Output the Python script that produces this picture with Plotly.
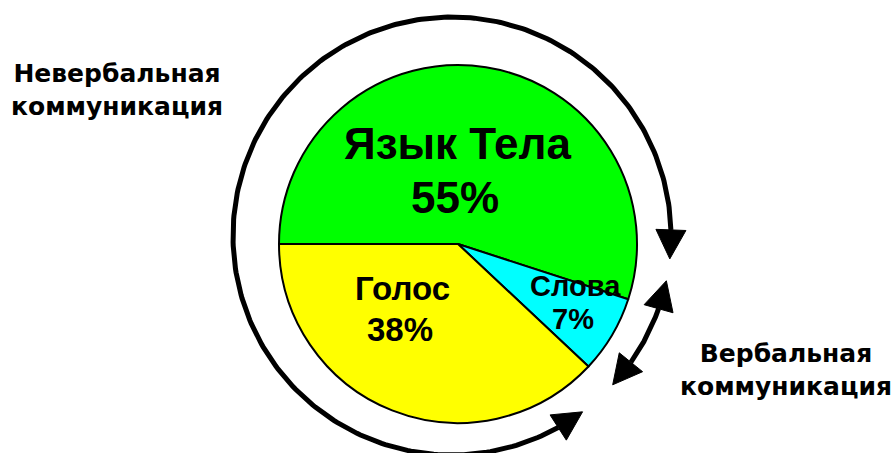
import numpy as np
import plotly.graph_objects as go

# ---- data ----
labels = ["Язык Тела", "Слова", "Голос"]
values = [55, 7, 38]
outer_labels = ["Невербальная<br>коммуникация", "Вербальная<br>коммуникация"]

# ---- styles / geometry (pixels) ----
W, H = 895, 453
colors = ["#00FF00", "#00FFFF", "#FFFF00"]
pie_cx, pie_cy, pie_r = 458, 244, 179
arc_cx, arc_cy, arc_r = 452, 236, 219
FONT_IN = "Liberation Sans"
FONT_OUT = "DejaVu Sans"

fig = go.Figure()
fig.add_trace(go.Pie(
    labels=labels, values=values, sort=False, direction="clockwise", rotation=270,
    marker=dict(colors=colors, line=dict(color="black", width=2)),
    textinfo="none", hoverinfo="label+percent", showlegend=False,
    domain=dict(x=[(pie_cx - pie_r) / W, (pie_cx + pie_r) / W],
                y=[(H - pie_cy - pie_r) / H, (H - pie_cy + pie_r) / H]),
))


def pt(theta_deg):
    t = np.radians(theta_deg)
    return arc_cx + arc_r * np.cos(t), arc_cy - arc_r * np.sin(t)


L, HW = 29, 15
dL = np.degrees(L / arc_r)


def arrow_head(tip_deg, back_deg):
    tx, ty = pt(tip_deg)
    bx, by = pt(back_deg)
    dx, dy = tx - bx, ty - by
    n = np.hypot(dx, dy)
    ux, uy = dx / n, dy / n
    bx, by = tx - ux * L, ty - uy * L
    px, py = -uy * HW, ux * HW
    return [bx + px, tx, bx - px, bx + px], [by + py, ty, by - py, by + py]


def add_arc(a0, a1):
    th = np.linspace(a0 + dL, a1 - dL, 300)
    xs, ys = pt(th)
    fig.add_trace(go.Scatter(x=xs, y=ys, mode="lines", line=dict(color="black", width=5),
                             hoverinfo="skip", showlegend=False))
    for tip, back in [(a0, a0 + dL), (a1, a1 - dL)]:
        hx, hy = arrow_head(tip, back)
        fig.add_trace(go.Scatter(x=hx, y=hy, mode="lines", fill="toself", fillcolor="black",
                                 line=dict(color="black", width=1), hoverinfo="skip",
                                 showlegend=False))


add_arc(-6, 306.6)      # non-verbal
add_arc(-42.8, -11.8)   # verbal

ann = []
# inside labels
ann.append(dict(x=457, y=143, text=f"<b>{labels[0]}</b>", font=dict(size=44, family=FONT_IN, color="black")))
ann.append(dict(x=455, y=197, text=f"<b>{values[0]}%</b>", font=dict(size=44, family=FONT_IN, color="black")))
ann.append(dict(x=402, y=288, text=f"<b>{labels[2]}</b>", font=dict(size=33, family=FONT_IN, color="black")))
ann.append(dict(x=400, y=329, text=f"<b>{values[2]}%</b>", font=dict(size=33, family=FONT_IN, color="black")))
ann.append(dict(x=575, y=286, text=f"<b>{labels[1]}</b>", font=dict(size=29, family=FONT_IN, color="black")))
ann.append(dict(x=573, y=319, text=f"<b>{values[1]}%</b>", font=dict(size=29, family=FONT_IN, color="black")))
# outer labels
ann.append(dict(x=117, y=90, text=f"<b>{outer_labels[0]}</b>", font=dict(size=25, family=FONT_OUT, color="black")))
ann.append(dict(x=786, y=370, text=f"<b>{outer_labels[1]}</b>", font=dict(size=25, family=FONT_OUT, color="black")))
for a in ann:
    a.update(xref="x", yref="y", showarrow=False, xanchor="center", yanchor="middle", align="center")

fig.update_layout(
    width=W, height=H, margin=dict(l=0, r=0, t=0, b=0),
    paper_bgcolor="white", plot_bgcolor="white",
    xaxis=dict(range=[0, W], visible=False, fixedrange=True),
    yaxis=dict(range=[H, 0], visible=False, fixedrange=True),
    annotations=ann,
)
fig.write_html("out.html", config={"displayModeBar": False},
               post_script="document.body.style.margin='0';document.body.style.overflow='hidden';")
